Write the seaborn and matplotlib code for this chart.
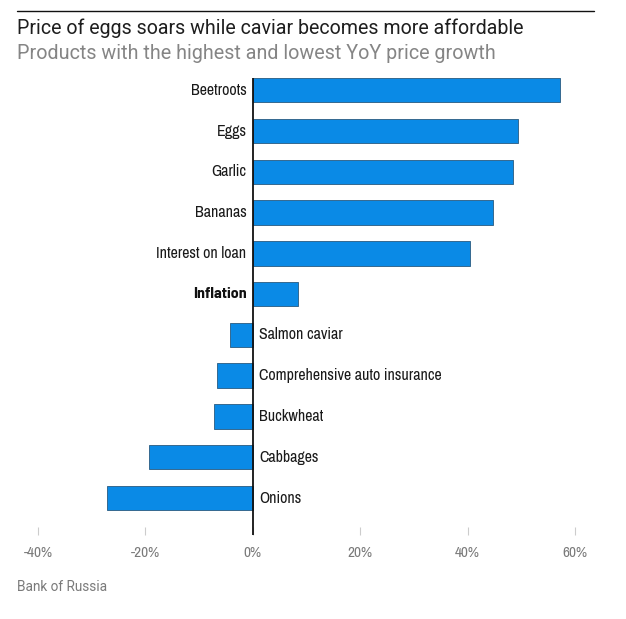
import matplotlib
matplotlib.use("Agg")
import matplotlib.pyplot as plt
import pandas as pd
import seaborn as sns
from matplotlib.lines import Line2D

# === DATA === #
categories = [
    "Beetroots", "Eggs", "Garlic", "Bananas", "Interest on loan", "Inflation",
    "Salmon caviar", "Comprehensive auto insurance", "Buckwheat", "Cabbages", "Onions",
]
yoy_growth = [57.2, 49.4, 48.4, 44.8, 40.5, 8.5, -4.2, -6.6, -7.2, -19.3, -27.1]
x_ticks = [-40, -20, 0, 20, 40, 60]
x_tick_labels = ["-40%", "-20%", "0%", "20%", "40%", "60%"]

title = "Price of eggs soars while caviar becomes more affordable"
subtitle = "Products with the highest and lowest YoY price growth"
source = "Bank of Russia"

# === SETUP === #
sns.set_theme(style="white")
NARROW = ["Archivo Narrow", "Roboto Condensed", "Barlow Semi Condensed", "DejaVu Sans"]
NARROW_BOLD = ["Barlow Semi Condensed", "Asap Condensed", "DejaVu Sans"]
HEADER = ["Roboto", "DejaVu Sans"]
plt.rcParams["font.family"] = NARROW

BAR_COLOR = "#0a8ae6"
EDGE_COLOR = "#35698f"

df = pd.DataFrame({"category": categories, "growth": yoy_growth})

fig = plt.figure(figsize=(6.26, 6.19), dpi=100)
ax = fig.add_axes([0.0607, 0.1357, 0.8578, 0.7383])

sns.barplot(
    data=df, x="growth", y="category", orient="h", ax=ax,
    color=BAR_COLOR, saturation=1, width=0.6,
    edgecolor=EDGE_COLOR, linewidth=0.7,
)

ax.set_xlim(-40, 60)
ax.set_ylim(10.907, -0.3)
ax.axvline(0, color="#111111", lw=1.3, zorder=5)

for side in ["top", "right", "left", "bottom"]:
    ax.spines[side].set_visible(False)

ax.set_xticks(x_ticks)
ax.set_xticklabels(x_tick_labels)
ax.tick_params(axis="x", direction="in", length=5.8, width=0.8, color="#cccccc",
               labelcolor="#7a7a7a", labelsize=11, pad=8, bottom=True)
ax.set_yticks([])
ax.set_xlabel("")
ax.set_ylabel("")

# category labels next to the zero line
for i, (cat, val) in enumerate(zip(categories, yoy_growth)):
    if cat == "Inflation":
        ax.annotate(cat, xy=(0, i), xytext=(-4.5, 0), textcoords="offset points",
                    ha="right", va="center", fontsize=11.5, color="#111111",
                    family=NARROW_BOLD, fontweight="bold")
    elif val >= 0:
        ax.annotate(cat, xy=(0, i), xytext=(-4.5, 0), textcoords="offset points",
                    ha="right", va="center", fontsize=11.5, color="#1a1a1a")
    else:
        ax.annotate(cat, xy=(0, i), xytext=(4.5, 0), textcoords="offset points",
                    ha="left", va="center", fontsize=11.5, color="#1a1a1a")

# header / footer
fig.add_artist(Line2D([0.027, 0.949], [0.982, 0.982], color="#111111", lw=1.0))
fig.text(0.027, 0.9446, title, fontsize=14.1, color="#1e1e1e", va="baseline", ha="left", family=HEADER)
fig.text(0.027, 0.9047, subtitle, fontsize=14.2, color="#858585", va="baseline", ha="left", family=HEADER)
fig.text(0.027, 0.0452, source, fontsize=9.8, color="#7a7a7a", va="baseline", ha="left", family=HEADER)

fig.savefig("out.png", dpi=100)
